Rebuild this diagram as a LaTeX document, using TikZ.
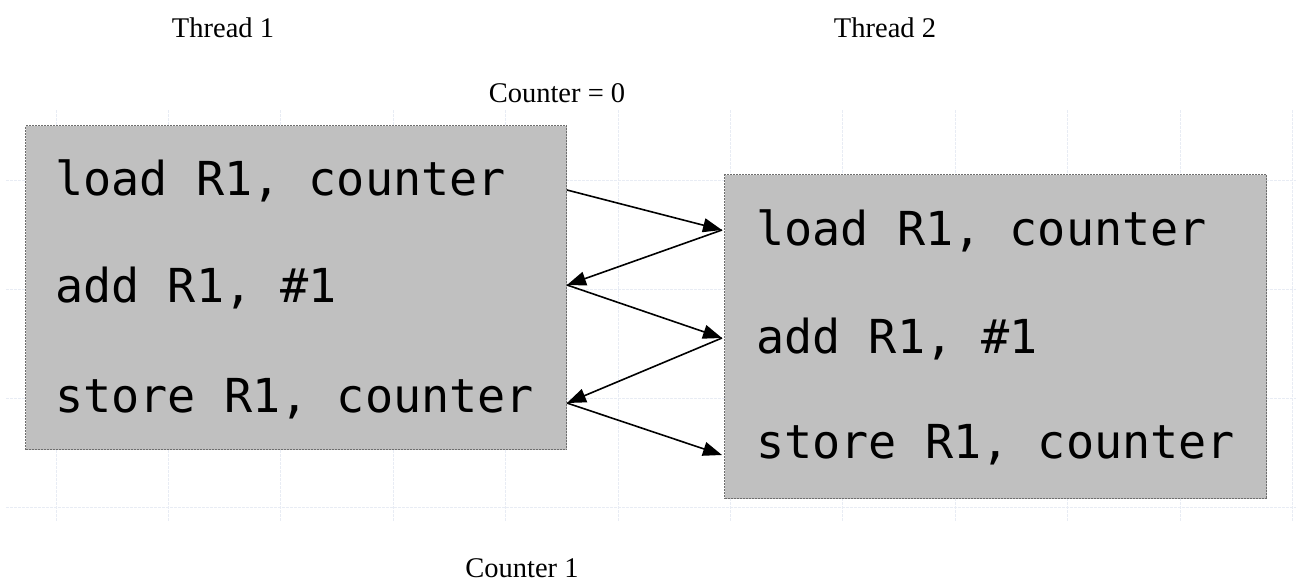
\documentclass[tikz,border=0pt]{standalone}
\usepackage{fontspec}
\setmainfont{Liberation Serif}
\newfontfamily\codefont{DejaVu Sans Mono}
\usetikzlibrary{arrows.meta}

\definecolor{boxgray}{RGB}{192,192,192}
\definecolor{boxedge}{RGB}{110,110,110}
\definecolor{gridline}{RGB}{232,236,244}

\tikzset{
  codebox/.style={draw=boxedge, fill=boxgray, line width=1pt,
    dash pattern=on 2pt off 1pt, rectangle, inner sep=0pt, anchor=north west},
  codeline/.style={font=\codefont\fontsize{46.8}{50}\selectfont, inner sep=0pt, anchor=base west},
  caption/.style={font=\fontsize{28.5}{32}\selectfont, inner sep=0pt, anchor=base},
  flow/.style={line width=1.6pt, -{Triangle[length=19pt,width=14pt]}},
  gridrule/.style={draw=gridline, line width=0.8pt, dash pattern=on 3pt off 1pt}
}

\begin{document}
\begin{tikzpicture}[x=1pt, y=-1pt]
  \useasboundingbox (0,0) rectangle (1296,582);

  % background grid
  \foreach \gx in {0,...,11}
    \draw[gridrule] ({56+112.4*\gx},110) -- ({56+112.4*\gx},522);
  \foreach \gy in {180,289,398,507}
    \draw[gridrule] (6,\gy) -- (1296,\gy);

  % captions
  \node[caption] (t1) at (223,37) {Thread 1};
  \node[caption] (t2) at (885,37) {Thread 2};
  \node[caption] (c0) at (557,102) {Counter = 0};
  \node[caption] (c1) at (522,577) {Counter 1};

  % thread 1 instructions
  \node[codebox, minimum width=541pt, minimum height=324pt] (box1) at (25,125) {};
  \node[codeline] (a1) at (55,195) {load R1, counter};
  \node[codeline] (a2) at (55,302) {add R1, \#1};
  \node[codeline] (a3) at (55,412) {store R1, counter};

  % thread 2 instructions
  \node[codebox, minimum width=542pt, minimum height=324pt] (box2) at (724,174) {};
  \node[codeline] (b1) at (756,245) {load R1, counter};
  \node[codeline] (b2) at (756,353) {add R1, \#1};
  \node[codeline] (b3) at (756,458) {store R1, counter};

  % interleaving points on the box edges
  \coordinate (e1) at (567,190);
  \coordinate (e2) at (567,285);
  \coordinate (e3) at (567,403);
  \coordinate (w1) at (722,230);
  \coordinate (w2) at (722,338);
  \coordinate (w3) at (722,455);

  \draw[flow] (e1) -- (w1);
  \draw[flow] (w1) -- (e2);
  \draw[flow] (e2) -- (w2);
  \draw[flow] (w2) -- (e3);
  \draw[flow] (e3) -- (w3);
\end{tikzpicture}
\end{document}
